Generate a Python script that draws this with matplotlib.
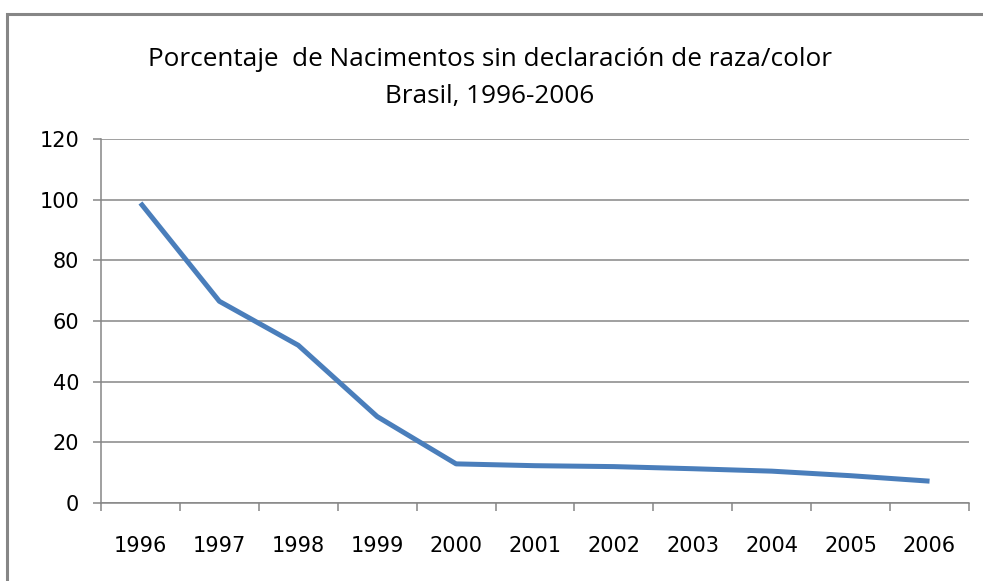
import matplotlib
matplotlib.use("Agg")
import matplotlib.pyplot as plt
from matplotlib.patches import Rectangle

years = ['1996', '1997', '1998', '1999', '2000', '2001', '2002', '2003', '2004', '2005', '2006']
porcentaje = [98.9, 66.5, 52.0, 28.5, 12.9, 12.3, 12.0, 11.3, 10.5, 9.0, 7.2]
yticks = [0, 20, 40, 60, 80, 100, 120]

W, H = 983, 581
fig = plt.figure(figsize=(W / 100, H / 100), dpi=100)
ax = fig.add_axes([101 / W, 1 - 503 / H, 868 / W, 364 / H])

grey = '#868686'

# outer chart border (only left and top visible in the picture)
fig.patches.append(Rectangle((7 / W, -0.1), 1.2, 1 - 14 / H + 0.1, transform=fig.transFigure,
                             fill=False, edgecolor=grey, linewidth=2.2))

x = list(range(len(years)))
ax.plot(x, porcentaje, color='#4A7EBB', linewidth=3.6, solid_capstyle='butt', zorder=3)

ax.set_xlim(-0.5, len(years) - 0.5)
ax.set_ylim(0, 120)
ax.set_yticks(yticks)
ax.set_xticks(x)
ax.set_xticklabels(years)
ax.set_xticks([i - 0.5 for i in range(len(years) + 1)], minor=True)

ax.grid(axis='y', color=grey, linewidth=1.1)
ax.set_axisbelow(True)
for s in ['top', 'right']:
    ax.spines[s].set_visible(False)
for s in ['left', 'bottom']:
    ax.spines[s].set_color(grey)
    ax.spines[s].set_linewidth(1.1)

ax.tick_params(axis='y', length=5.8, width=1.1, color=grey, pad=10, labelsize=15)
ax.tick_params(axis='x', which='major', length=0, pad=24, labelsize=15)
ax.tick_params(axis='x', which='minor', length=5.8, width=1.1, color=grey)

fig.text(490 / W, 1 - 60 / H, 'Porcentaje  de Nacimentos sin declaración de raza/color',
         ha='center', va='center', fontsize=18.8, family='Open Sans', fontweight='medium')
fig.text(490 / W, 1 - 97 / H, 'Brasil, 1996-2006',
         ha='center', va='center', fontsize=18.8, family='Open Sans', fontweight='medium')

fig.savefig('out.png', dpi=100)
